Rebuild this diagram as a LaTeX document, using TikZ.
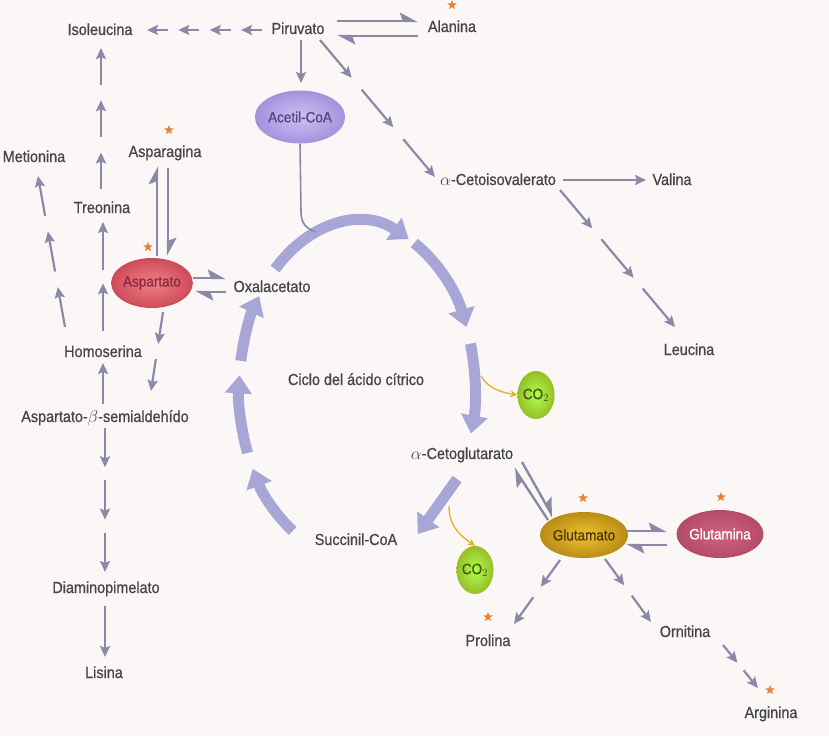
\documentclass[tikz,border=0pt]{standalone}
\usepackage{fontspec}
\setmainfont{Liberation Sans}[FakeStretch=0.9,FakeBold=0.8]
\usetikzlibrary{arrows.meta,calc,shapes.geometric}
\definecolor{bg}{HTML}{FBF7F7}
\definecolor{txt}{HTML}{464646}
\definecolor{ar}{HTML}{8C89A8}
\definecolor{cyc}{HTML}{A8A6D6}
\definecolor{coarr}{HTML}{E8B020}
\definecolor{starc}{HTML}{E8823A}
\newcommand\achain[4][0.72]{%
  \foreach \k in {1,...,#4}{%
    \draw[arr] ($(#2)!{(\k-1)/(#4-1+#1)}!(#3)$) -- ($(#2)!{(\k-1+#1)/(#4-1+#1)}!(#3)$);}}
\newcommand\cycseg[2]{\draw[cycarr] ({357+118*cos(#1)},{390-168*sin(#1)}) arc[start angle=#1, end angle=#2, x radius=118pt, y radius=168pt];}
\begin{document}
\begin{tikzpicture}[x=1pt,y=-1pt,
  lbl/.style={text=txt, font=\fontsize{16}{18}\selectfont, inner sep=0pt, text height=12pt, text depth=0pt},
  arr/.style={draw=ar, line width=2.2pt, -{Stealth[length=11pt,width=10pt,inset=2pt]}},
  harp/.style={draw=ar, line width=2.4pt, -{Stealth[harpoon,length=16pt,width=17pt,inset=3pt]}},
  cycarr/.style={draw=cyc, line width=11pt, -{Triangle[length=18pt,width=26pt]}},
  astar/.style={star, star points=5, star point ratio=2.3, fill=starc, minimum size=10pt, inner sep=0pt},
  bub/.style={ellipse, inner sep=0pt, font=\fontsize{15}{17}\selectfont},
  co2/.style={ellipse, inner sep=0pt, minimum width=37pt, minimum height=48pt, inner color=green!45!yellow!70!white, outer color={rgb,255:red,150;green,190;blue,40}, text={rgb,255:red,70;green,90;blue,20}, font=\fontsize{15}{17}\selectfont},
  coa/.style={draw=coarr, line width=1.3pt, -{Stealth[length=7pt,width=7pt]}},
  thin/.style={draw=ar, line width=1.6pt}
]
\fill[bg] (0,0) rectangle (829,736);
\useasboundingbox (0,0) rectangle (829,736);

% ---------- nodes ----------
\node[lbl] (iso) at (100,29) {Isoleucina};
\node[lbl] (piru) at (298,28) {Piruvato};
\node[lbl] (ala) at (452,26) {Alanina};
\node[astar] (sala) at (452,5) {};
\node[bub, minimum width=86pt, minimum height=53pt, inner color={rgb,255:red,205;green,195;blue,245}, outer color={rgb,255:red,165;green,145;blue,220}, text={rgb,255:red,85;green,70;blue,130}] (acoa) at (300,117) {Acetil-CoA};
\node[lbl] (met) at (34,156) {Metionina};
\node[lbl] (asn) at (165,151) {Asparagina};
\node[astar] (sasn) at (169,130) {};
\node[lbl] (thr) at (102,207) {Treonina};
\node[bub, minimum width=79pt, minimum height=50pt, inner color={rgb,255:red,240;green,130;blue,135}, outer color={rgb,255:red,205;green,75;blue,90}, text={rgb,255:red,140;green,40;blue,60}] (asp) at (152,283) {Aspartato};
\node[astar] (sasp) at (148,247) {};
\node[lbl] (oaa) at (272,286) {Oxalacetato};
\node[lbl] (hse) at (103,351) {Homoserina};
\node[lbl] (asa) at (105,416) {Aspartato-$\beta$-semialdehído};
\node[lbl] (dap) at (106,587) {Diaminopimelato};
\node[lbl] (lys) at (104,672) {Lisina};
\node[lbl] (kiv) at (498,179) {$\alpha$-Cetoisovalerato};
\node[lbl] (val) at (672,179) {Valina};
\node[lbl] (leu) at (689,349) {Leucina};
\node[lbl] (tca) at (356,379) {Ciclo del ácido cítrico};
\node[co2] (co2a) at (536,395) {CO$_2$};
\node[lbl] (akg) at (462,453) {$\alpha$-Cetoglutarato};
\node[lbl] (succ) at (356,539) {Succinil-CoA};
\node[co2] (co2b) at (475,570) {CO$_2$};
\node[bub, minimum width=78pt, minimum height=46pt, inner color={rgb,255:red,238;green,195;blue,50}, outer color={rgb,255:red,185;green,140;blue,20}, text={rgb,255:red,75;green,55;blue,5}] (glu) at (584,535) {Glutamato};
\node[astar] (sglu) at (583,498) {};
\node[bub, minimum width=85pt, minimum height=48pt, inner color={rgb,255:red,205;green,100;blue,130}, outer color={rgb,255:red,180;green,75;blue,105}, text=white] (gln) at (720,534) {Glutamina};
\node[astar] (sgln) at (721,497) {};
\node[lbl] (pro) at (488,640) {Prolina};
\node[astar] (spro) at (488,617) {};
\node[lbl] (orn) at (685,631) {Ornitina};
\node[lbl] (arg) at (771,712) {Arginina};
\node[astar] (sarg) at (770,690) {};

% ---------- citric acid cycle ----------
\cycseg{134}{64}
\cycseg{61}{22}
\cycseg{16}{-15}
\draw[cycarr] ({357+118*cos(-32)},{390-168*sin(-32)}) -- ({357+118*cos(-59)},{390-168*sin(-59)});
\cycseg{237}{208}
\cycseg{202}{175}
\cycseg{170}{146}

% ---------- connector end points ----------
\coordinate (p1) at (262,30);  \coordinate (p2) at (147,30);
\coordinate (p3) at (320,40);  \coordinate (p4) at (435,177);
\coordinate (p5) at (560,190); \coordinate (p6) at (675,327);
\coordinate (t1) at (101,189); \coordinate (t2) at (101,48);
\coordinate (h1) at (103,331); \coordinate (h2) at (103,222);
\coordinate (h3) at (65,327);  \coordinate (h4) at (38,176);
\coordinate (a1) at (163,312); \coordinate (a2) at (151,391);
\coordinate (b1) at (105,428); \coordinate (b2) at (105,572);
\coordinate (g1) at (560,560); \coordinate (g2) at (514,624);
\coordinate (g3) at (605,559); \coordinate (g4) at (651,622);
\coordinate (o1) at (723,645); \coordinate (o2) at (758,688);
\coordinate (pa1) at (301,40);  \coordinate (pa2) at (301,83);
\coordinate (kv1) at (563,180); \coordinate (kv2) at (646,180);
\coordinate (as1) at (103,404); \coordinate (as2) at (103,363);
\coordinate (dl1) at (105,606); \coordinate (dl2) at (105,657);

% ---------- dashed arrow chains ----------
\achain[0.67]{p1}{p2}{4}
\achain[0.76]{p3}{p4}{3}
\achain[0.78]{p5}{p6}{3}
\achain[0.7]{t1}{t2}{3}
\achain[0.78]{h1}{h2}{2}
\achain[0.72]{h3}{h4}{3}
\achain[0.68]{a1}{a2}{2}
\achain[0.75]{b1}{b2}{3}
\achain[0.72]{g1}{g2}{2}
\achain[0.72]{g3}{g4}{2}
\achain[0.7]{o1}{o2}{2}

% ---------- single arrows ----------
\draw[arr] (pa1) -- (pa2);
\draw[arr] (kv1) -- (kv2);
\draw[arr] (as1) -- (as2);
\draw[arr] (dl1) -- (dl2);

% ---------- equilibrium harpoons ----------
\draw[harp] (337,21) -- (418,21);
\draw[harp] (418,36) -- (337,36);
\draw[harp] (157,256) -- (157,166);
\draw[harp] (168,168) -- (168,256);
\draw[harp] (193,278) -- (226,278);
\draw[harp] (226,292) -- (195,292);
\draw[harp] (548,520) -- (514,468);
\draw[harp] (522,462) -- (553,517);
\draw[harp] (625,531) -- (667,531);
\draw[harp] (667,545) -- (626,545);

% ---------- Acetil-CoA into the cycle ----------
\draw[thin] (acoa.south) -- (301,212) .. controls (301,224) and (307,229) .. (316,232);

% ---------- CO2 release ----------
\draw[coa] (481,376) .. controls (488,388) and (500,392) .. (co2a.west);
\draw[coa] (449,506) .. controls (449,522) and (455,532) .. (co2b.north);
\end{tikzpicture}
\end{document}
